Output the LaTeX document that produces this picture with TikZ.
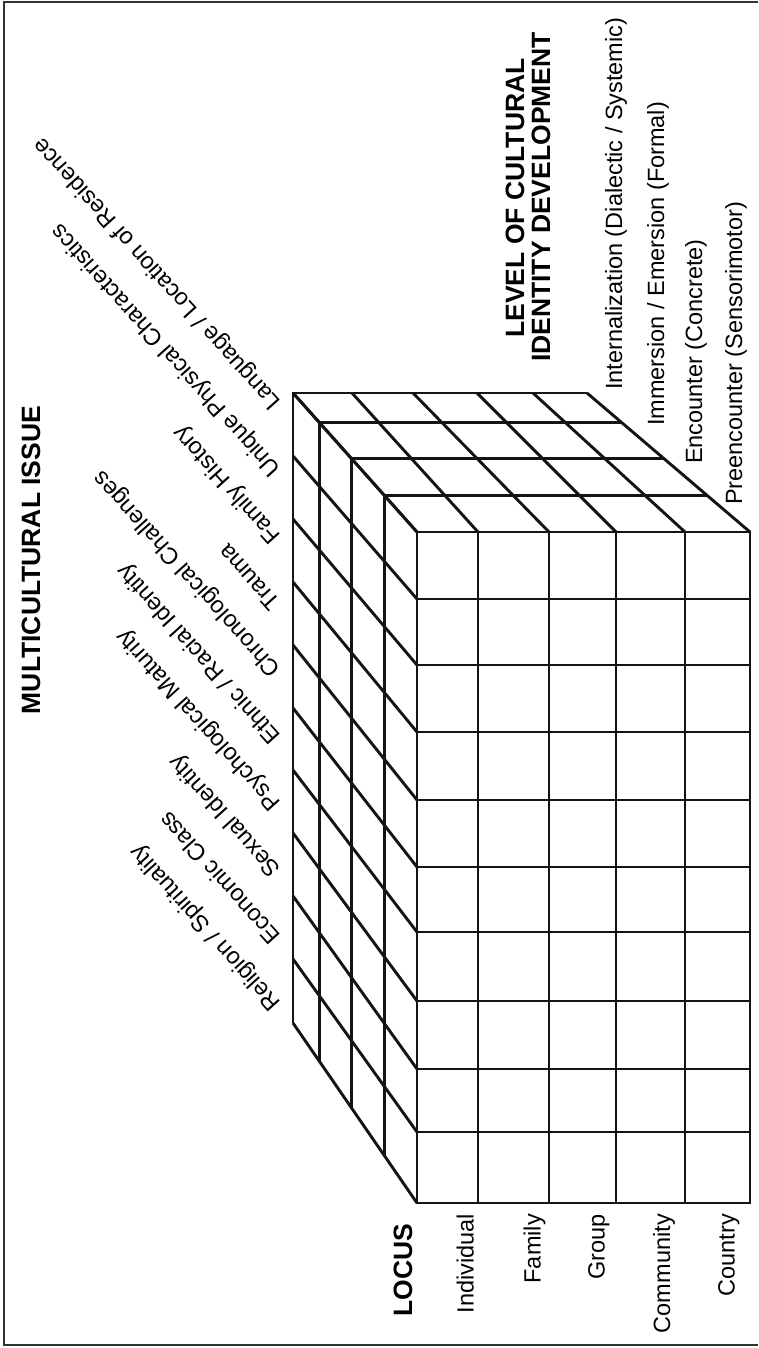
\documentclass[tikz,border=0pt]{standalone}
\usepackage{fontspec}
\setmainfont{Liberation Sans}
\begin{document}
\begin{tikzpicture}[x=1pt,y=-1pt,
  grid/.style={line width=2.9pt, draw=black!92},
  frame/.style={line width=2.4pt, draw=black!80},
  lbl/.style={inner sep=0pt, font=\fontsize{23.5}{28}\selectfont},
  ttl/.style={inner sep=0pt, font=\bfseries\fontsize{26.5}{28}\selectfont},
  issue/.style={lbl, rotate=132, anchor=base west},
  lvl/.style={lbl, rotate=90, anchor=base west},
  loc/.style={lbl, rotate=90, anchor=base east}]
\useasboundingbox (0,0) rectangle (758,1348);
% frame
\draw[frame] (758,2) -- (4,2) -- (4,1345) -- (758,1345);
% depth layers (back face = layer 0), left edge + top edge of each layer
\foreach \t in {0,0.215,0.47,0.735} {
  \draw[grid] ({293+124*\t},{1023+180*\t}) -- ({293+124*\t},{393+139*\t}) -- ({587+163*\t},{393+139*\t});
}
% top face: column lines from back to front
\foreach \bx/\fx in {293/417,352/478,413/549,477/616,533/685,587/750}
  \draw[grid] (\bx,393) -- (\fx,532);
% left face: row lines from back to front
\foreach \by/\fy in {393/532,456/599,519/665,582/732,645/800,708/867,770/932,833/1001,896/1069,959/1132,1023/1203}
  \draw[grid] (293,\by) -- (417,\fy);
% front face
\draw[grid] (417,532) rectangle (750,1203);
\foreach \x in {478,549,616,685} \draw[grid] (\x,532) -- (\x,1203);
\foreach \y in {599,665,732,800,867,932,1001,1069,1132} \draw[grid] (417,\y) -- (750,\y);
% titles
\node[ttl, rotate=90, anchor=base] (multi) at (40,560) {MULTICULTURAL ISSUE};
\node[ttl, rotate=90, anchor=base] (lev1) at (524,198) {LEVEL OF CULTURAL};
\node[ttl, rotate=90, anchor=base] (lev2) at (550,197) {IDENTITY DEVELOPMENT};
\node[ttl, rotate=90, anchor=base] (locus) at (412,1270) {LOCUS};
% levels
\node[lvl] (l4) at (622,390) {Internalization (Dialectic / Systemic)};
\node[lvl] (l3) at (664,426) {Immersion / Emersion (Formal)};
\node[lvl] (l2) at (702,464) {Encounter (Concrete)};
\node[lvl] (l1) at (742,505) {Preencounter (Sensorimotor)};
% locus
\node[loc] (c1) at (473.5,1214) {Individual};
\node[loc] (c2) at (540.5,1214) {Family};
\node[loc] (c3) at (604.5,1214) {Group};
\node[loc] (c4) at (670,1214) {Community};
\node[loc] (c5) at (734.5,1214) {Country};
% issues
\foreach \txt [count=\i from 0] in {Language / Location of Residence,Unique Physical Characteristics,Family History,Trauma,Chronological Challenges,Ethnic / Racial Identity,Psychological Maturity,Sexual Identity,Economic Class,Religion / Spirituality}
  \node[issue] (iss\i) at (282,{402+66.7*\i}) {\txt};
\end{tikzpicture}
\end{document}
